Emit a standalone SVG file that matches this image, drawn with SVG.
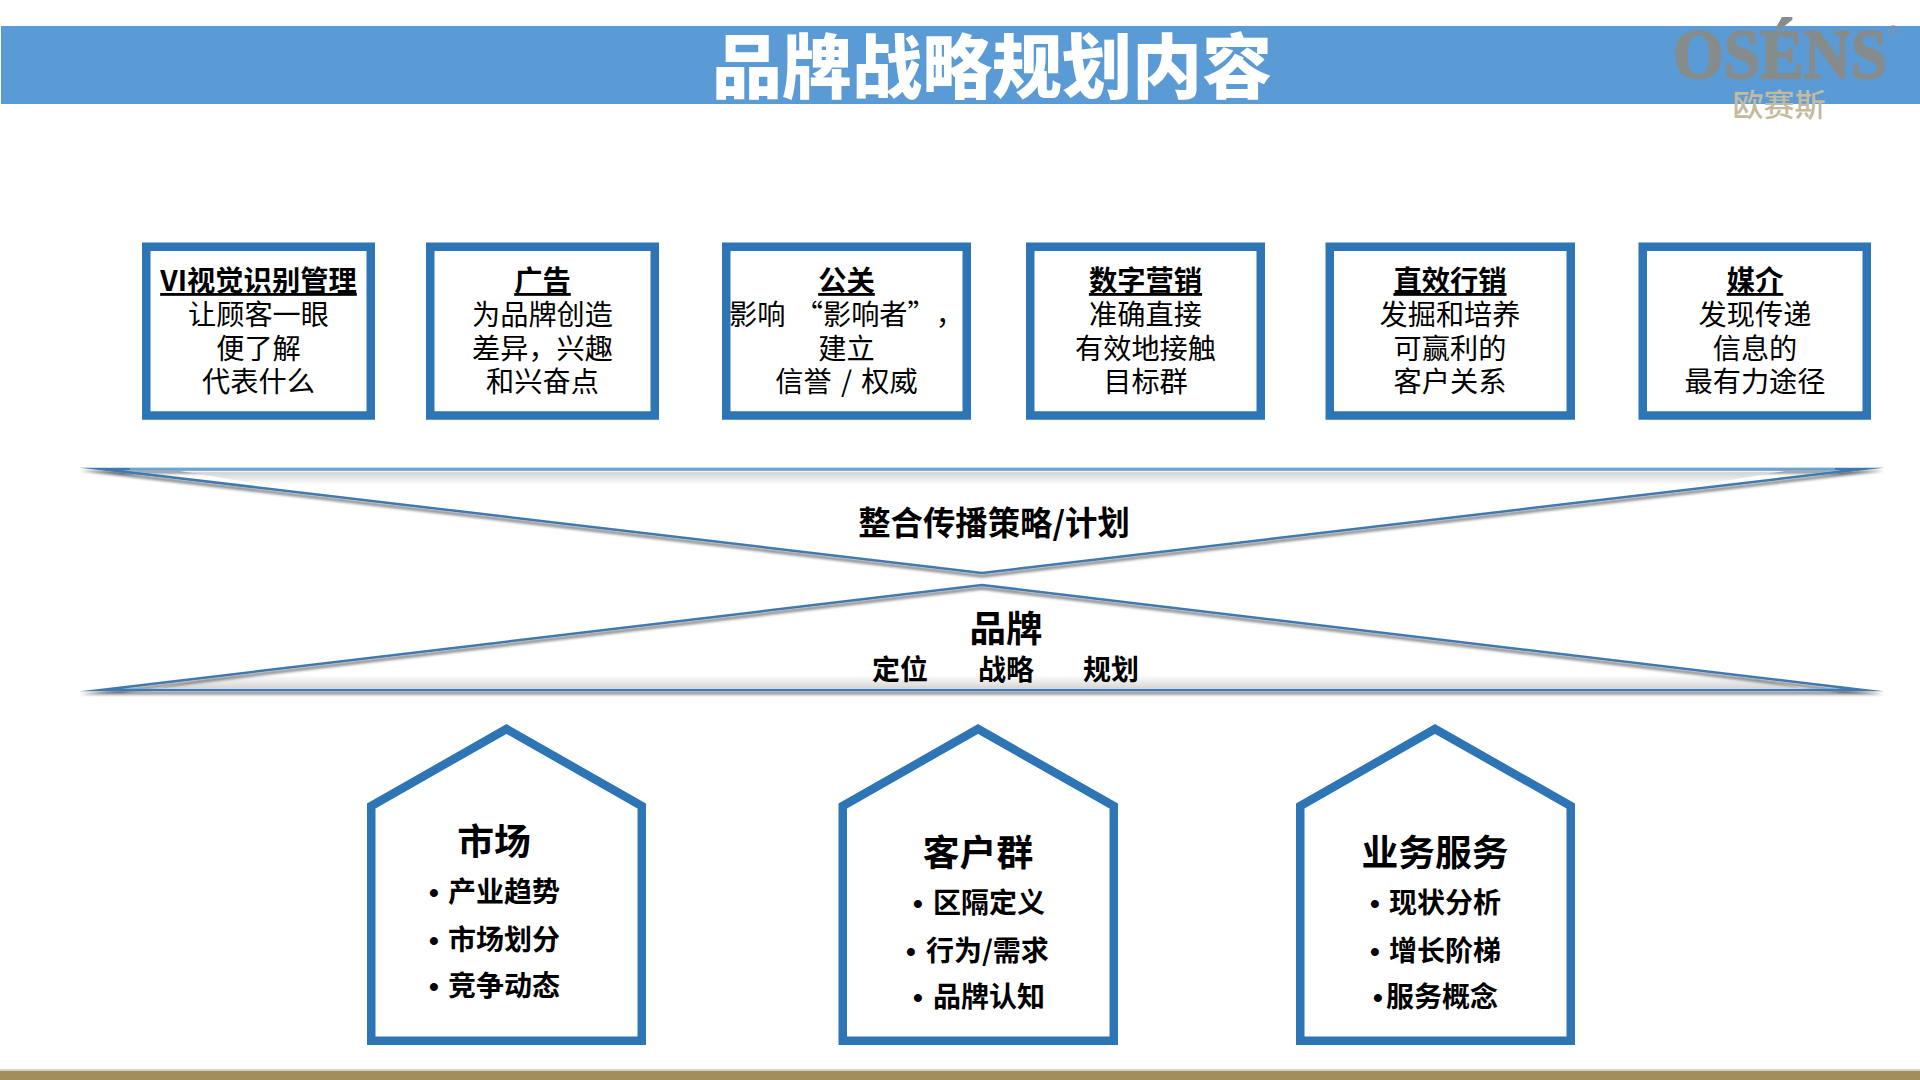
<svg xmlns="http://www.w3.org/2000/svg" width="1920" height="1080" viewBox="0 0 1920 1080">
<style>
text{font-family:"Noto Sans CJK SC","Noto Sans",sans-serif;fill:#000;text-anchor:middle;text-spacing-trim:space-all}
.box{fill:#fff;stroke:#2e75b6;stroke-width:8.5}
.tri{fill:none;stroke:#4079b0;stroke-width:2.500;stroke-linejoin:miter;stroke-miterlimit:40}
.h{font-size:28.300px;font-weight:700;text-decoration:underline}
.b{font-size:28.200px;word-spacing:3px}
.ht{font-size:36.800px;font-weight:700}
.it{font-size:28px;font-weight:700;text-anchor:start}
.dot{font-family:"Liberation Sans",sans-serif;font-weight:700}
.lb{font-size:28px;font-weight:700}
</style>
<defs>
<filter id="sh" x="-5%" y="-20%" width="110%" height="140%"><feDropShadow dx="0" dy="3" stdDeviation="1.800" flood-color="#000" flood-opacity=".6"/></filter>
<linearGradient id="down" x1="0" y1="0" x2="0" y2="1"><stop offset="0" stop-color="#fff"/><stop offset=".12" stop-color="#d4d4d4"/><stop offset="1" stop-color="#fff"/></linearGradient>
<linearGradient id="up" x1="0" y1="1" x2="0" y2="0"><stop offset="0" stop-color="#d6d6d6"/><stop offset="1" stop-color="#fff"/></linearGradient>
</defs>
<rect width="1920" height="1080" fill="#fff"/>
<g id="header">
<rect x="1" y="26" width="1919" height="78" fill="#5b9bd5"/>
<text x="992" y="93" font-size="70" font-weight="900" style="fill:#fff">品牌战略规划内容</text>
</g>
<g id="logo">
<text x="1780" y="78" font-size="70" font-weight="700" textLength="214" lengthAdjust="spacingAndGlyphs" style="font-family:'Liberation Serif',serif;fill:#868c8c;stroke:#868c8c;stroke-width:1.800">OSÉNS</text>
<text x="1893" y="36" font-size="15" style="font-family:'Liberation Sans',sans-serif;fill:#7f93a8">®</text>
<text x="1779" y="116" font-size="31" font-weight="500" style="fill:#c4baa0">欧赛斯</text>
</g>
<g id="node-vi">
<rect class="box" x="146.250" y="246.750" width="224.500" height="168.750"/>
<text x="258.500" y="291" class="h">VI视觉识别管理</text>
<text x="258.500" y="325" class="b">让顾客一眼</text>
<text x="258.500" y="358.500" class="b">便了解</text>
<text x="258.500" y="392" class="b">代表什么</text>
</g>
<g id="node-ad">
<rect class="box" x="430.250" y="246.750" width="224.500" height="168.750"/>
<text x="542.500" y="291" class="h">广告</text>
<text x="542.500" y="325" class="b">为品牌创造</text>
<text x="542.500" y="358.500" class="b">差异，兴趣</text>
<text x="542.500" y="392" class="b">和兴奋点</text>
</g>
<g id="node-pr">
<rect class="box" x="726.250" y="246.750" width="240.500" height="168.750"/>
<text x="846.500" y="291" class="h">公关</text>
<text x="846.500" y="325" class="b">影响 “影响者”，</text>
<text x="846.500" y="358.500" class="b">建立</text>
<text x="846.500" y="392" class="b">信誉 / 权威</text>
</g>
<g id="node-digital">
<rect class="box" x="1030.250" y="246.750" width="230.500" height="168.750"/>
<text x="1145.500" y="291" class="h">数字营销</text>
<text x="1145.500" y="325" class="b">准确直接</text>
<text x="1145.500" y="358.500" class="b">有效地接触</text>
<text x="1145.500" y="392" class="b">目标群</text>
</g>
<g id="node-direct">
<rect class="box" x="1329.750" y="246.750" width="241" height="168.750"/>
<text x="1450" y="291" class="h">直效行销</text>
<text x="1450" y="325" class="b">发掘和培养</text>
<text x="1450" y="358.500" class="b">可赢利的</text>
<text x="1450" y="392" class="b">客户关系</text>
</g>
<g id="node-media">
<rect class="box" x="1642.750" y="246.750" width="224" height="168.750"/>
<text x="1755" y="291" class="h">媒介</text>
<text x="1755" y="325" class="b">发现传递</text>
<text x="1755" y="358.500" class="b">信息的</text>
<text x="1755" y="392" class="b">最有力途径</text>
</g>
<g id="node-strategy">
<polygon class="tri" points="101,469 982,573 1863,469" filter="url(#sh)"/>
<polygon points="180,471 1785,471 1700,485 265,485" fill="url(#down)"/>
<rect x="130" y="468" width="1705" height="2.500" fill="#6aa3d8"/>
<text x="994" y="535" font-size="32.400" font-weight="700">整合传播策略/计划</text>
</g>
<g id="node-brand">
<polygon points="230,675 1735,675 1800,688 160,688" fill="url(#up)"/>
<polygon class="tri" points="101,690 982,585 1863,690" filter="url(#sh)"/>
<text x="1006" y="642" font-size="36.500" font-weight="700">品牌</text>
<text x="900" y="680" class="lb">定位</text>
<text x="1006" y="680" class="lb">战略</text>
<text x="1111" y="680" class="lb">规划</text>
</g>
<g id="node-market">
<polygon class="box" points="371.250,806 506.500,729 641.750,806 641.750,1040.750 371.250,1040.750"/>
<text x="494" y="855" class="ht">市场</text>
<text class="it" y="902"><tspan x="429" class="dot">•</tspan><tspan x="448">产业趋势</tspan></text>
<text class="it" y="949.500"><tspan x="429" class="dot">•</tspan><tspan x="448">市场划分</tspan></text>
<text class="it" y="996"><tspan x="429" class="dot">•</tspan><tspan x="448">竞争动态</tspan></text>
</g>
<g id="node-customer">
<polygon class="box" points="842.750,806 978,729 1113.750,806 1113.750,1040.750 842.750,1040.750"/>
<text x="978" y="865.500" class="ht">客户群</text>
<text class="it" y="913"><tspan x="913" class="dot">•</tspan><tspan x="933">区隔定义</tspan></text>
<text class="it" y="960.500"><tspan x="906" class="dot">•</tspan><tspan x="926">行为/需求</tspan></text>
<text class="it" y="1007"><tspan x="913" class="dot">•</tspan><tspan x="933">品牌认知</tspan></text>
</g>
<g id="node-service">
<polygon class="box" points="1300.250,806 1435,729 1570.750,806 1570.750,1040.750 1300.250,1040.750"/>
<text x="1435" y="865.500" class="ht">业务服务</text>
<text class="it" y="913"><tspan x="1370" class="dot">•</tspan><tspan x="1389">现状分析</tspan></text>
<text class="it" y="960.500"><tspan x="1370" class="dot">•</tspan><tspan x="1389">增长阶梯</tspan></text>
<text class="it" y="1007"><tspan x="1373" class="dot">•</tspan><tspan x="1386">服务概念</tspan></text>
</g>
<g id="footer">
<rect x="0" y="1069" width="1920" height="2" fill="#d5d2c6"/>
<rect x="0" y="1071" width="1920" height="9" fill="#a08f5a"/>
</g>
<g id="connectors"/>
</svg>
